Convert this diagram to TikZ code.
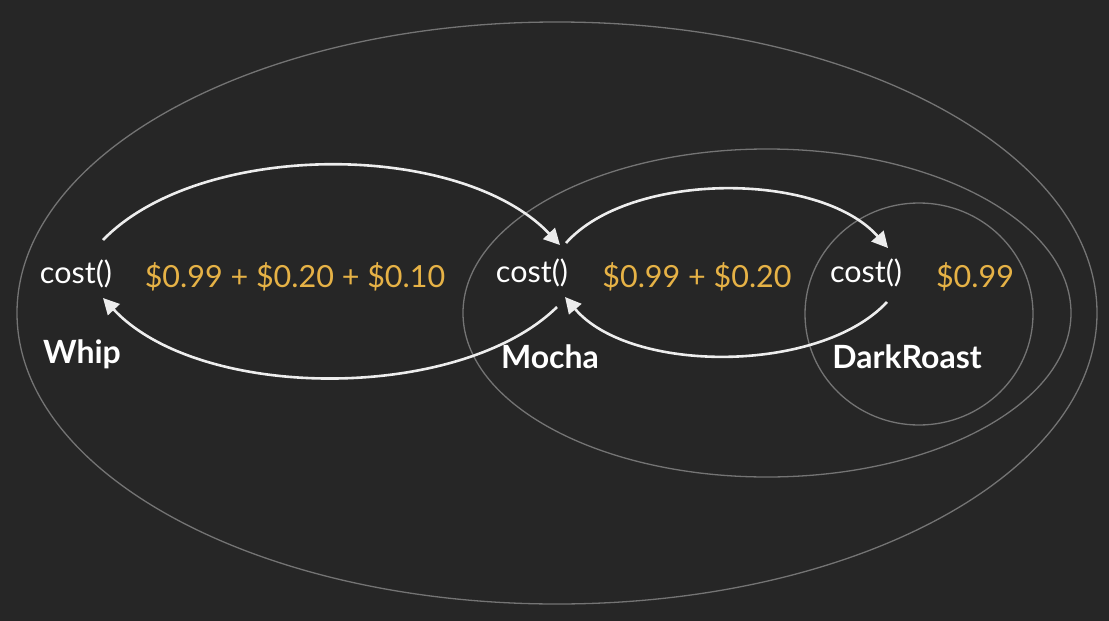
\documentclass[tikz,border=0pt]{standalone}
\usepackage{fontspec}
\setmainfont{Lato}
\usetikzlibrary{arrows.meta}
\definecolor{bg}{HTML}{262626}
\definecolor{ring}{HTML}{747474}
\definecolor{gold}{HTML}{E6B246}
\tikzset{
  ringline/.style={draw=ring, line width=1.3pt},
  flow/.style={draw=white!93!black, line width=2.6pt, -{Triangle[length=16pt,width=16pt]}},
  method/.style={text=white, font=\fontsize{30.5}{32}\selectfont, inner sep=0pt},
  price/.style={text=gold, font=\fontsize{30.5}{32}\selectfont, inner sep=0pt},
  cname/.style={text=white, font=\fontsize{32}{34}\selectfont\bfseries, inner sep=0pt}
}
\begin{document}
\begin{tikzpicture}[x=1pt,y=-1pt]
\fill[bg] (0,0) rectangle (1109,621);
\useasboundingbox (0,0) rectangle (1109,621);
% rings
\draw[ringline] (557,313) ellipse [x radius=540, y radius=291];
\draw[ringline] (767,313) ellipse [x radius=304, y radius=164];
\draw[ringline] (919,314) ellipse [x radius=114, y radius=111];
% texts
\node[method] (wc) at (76,274) {cost()};
\node[price] (wp) at (295,277) {\$0.99 + \$0.20 + \$0.10};
\node[cname] (wn) at (82,354) {Whip};
\node[method] (mc) at (532,273) {cost()};
\node[price] (mp) at (697,277) {\$0.99 + \$0.20};
\node[cname] (mn) at (550,357) {Mocha};
\node[method] (dc) at (866,273) {cost()};
\node[price] (dp) at (975,277) {\$0.99};
\node[cname] (dn) at (907,357) {DarkRoast};
% arrow end points
\coordinate (wout) at (103,240);
\coordinate (win) at (103,298);
\coordinate (min1) at (560,245);
\coordinate (mout1) at (557,307);
\coordinate (mout2) at (566,243);
\coordinate (min2) at (565,297);
\coordinate (din) at (888,248);
\coordinate (dout) at (887,302);
% arrows
\draw[flow] (wout) .. controls (200,140) and (460,140) .. (min1);
\draw[flow] (mout1) .. controls (460,402) and (200,402) .. (win);
\draw[flow] (mout2) .. controls (630,171) and (820,171) .. (din);
\draw[flow] (dout) .. controls (820,374) and (630,374) .. (min2);
\end{tikzpicture}
\end{document}
